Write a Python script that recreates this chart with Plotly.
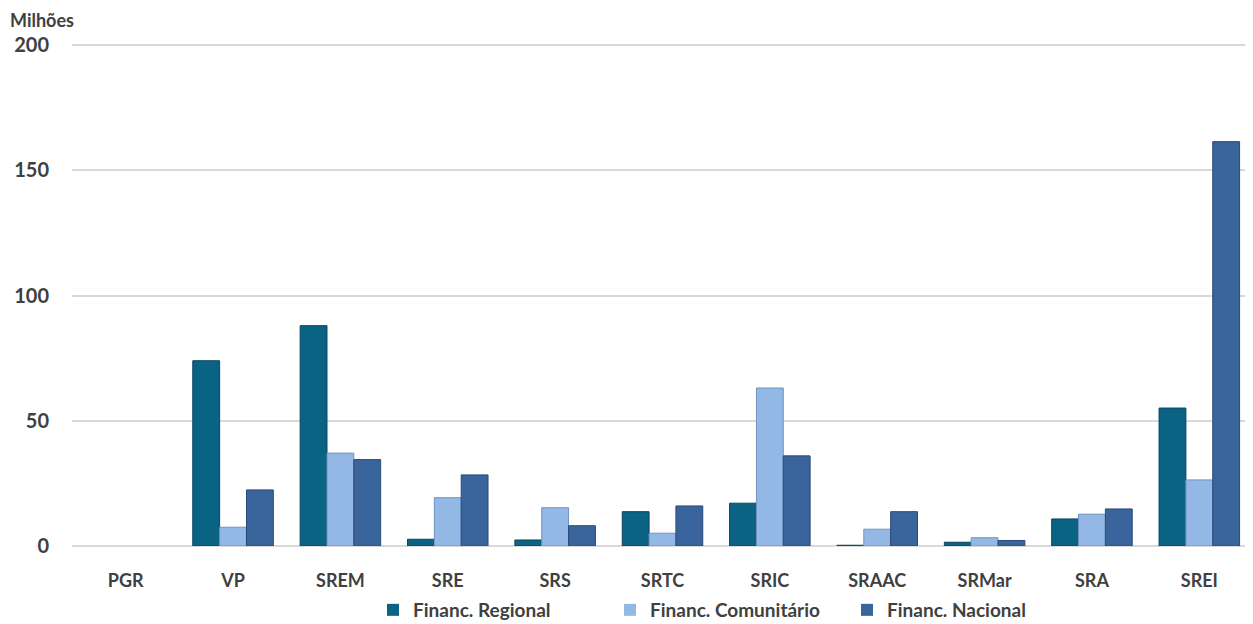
import plotly.graph_objects as go

categories = ["PGR", "VP", "SREM", "SRE", "SRS", "SRTC", "SRIC", "SRAAC", "SRMar", "SRA", "SREI"]
regional = [0, 74, 88, 2.7, 2.4, 13.7, 17.1, 0.3, 1.5, 10.8, 55.1]
comunitario = [0, 7.5, 37.1, 19.3, 15.3, 5.1, 63.1, 6.7, 3.3, 12.7, 26.4]
nacional = [0, 22.4, 34.5, 28.4, 8.1, 16.0, 36.0, 13.7, 2.2, 14.8, 161.5]
series_names = ["Financ. Regional", "Financ. Comunitário", "Financ. Nacional"]
y_ticks = [0, 50, 100, 150, 200]

colors = ["#0B6383", "#93B8E5", "#3A649C"]
edge = ["#07475E", "#6F93C0", "#284A78"]
FONT = "Lato"
TXT = "#404040"

# page body has an 8px margin, so the figure is drawn at (8, 8)
W, H = 1245, 616
L, R, T, B = 64, 0, 36, 78
PH = H - T - B
PW = W - L - R

fig = go.Figure()
for name, vals, c, e in zip(series_names, [regional, comunitario, nacional], colors, edge):
    fig.add_trace(go.Bar(
        x=categories, y=vals, name=name,
        marker=dict(color=c, line=dict(color=e, width=[0 if v == 0 else 1 for v in vals])),
    ))

fig.update_layout(
    width=W, height=H,
    paper_bgcolor="white", plot_bgcolor="white",
    margin=dict(l=L, r=R, t=T, b=B, autoexpand=False),
    barmode="group", bargap=0.25, bargroupgap=0,
    font=dict(family=FONT, color=TXT, size=17),
    showlegend=True,
    legend=dict(orientation="h", x=(365 - L) / PW, xanchor="left",
                y=-(583 - (T + PH)) / PH, yanchor="top",
                font=dict(family=FONT, size=19, color=TXT, weight="bold"),
                traceorder="normal", itemwidth=30, entrywidth=192, entrywidthmode="pixels"),
    yaxis=dict(range=[0, 200.5], tickvals=y_ticks, showgrid=True, gridcolor="#D9D9D9", gridwidth=1.5,
               zeroline=True, zerolinecolor="#D9D9D9", zerolinewidth=1.5,
               tickfont=dict(family=FONT, size=20, color=TXT, weight="bold"),
               ticks="", ticklabelstandoff=22, fixedrange=True, automargin=False),
    xaxis=dict(tickfont=dict(family=FONT, size=18, color=TXT, weight="bold"),
               ticks="", showline=False, ticklabelstandoff=22, automargin=False),
    annotations=[dict(text="<b>Milhões</b>", x=(1 - L) / PW, y=1 + T / PH,
                      xref="paper", yref="paper", borderpad=0,
                      xanchor="left", yanchor="top", showarrow=False,
                      font=dict(family=FONT, size=18, color=TXT))],
)

fig.write_html("out.html")
